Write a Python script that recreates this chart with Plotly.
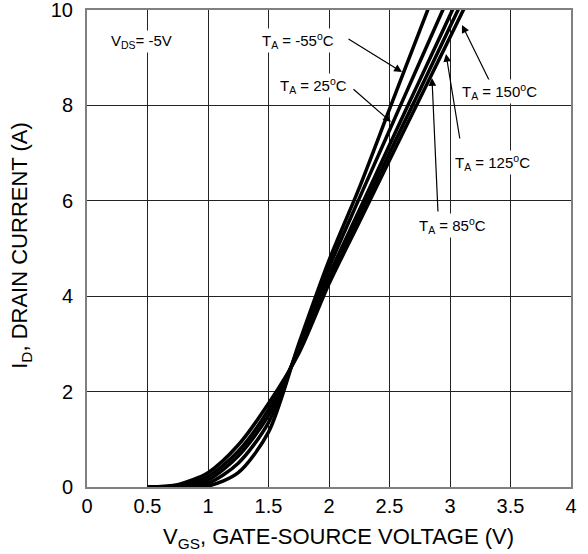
import plotly.graph_objects as go

# Gate-source voltage sample points (V)
vgs = [0.5, 0.75, 1.0, 1.25, 1.5, 1.75, 2.0, 2.25, 2.5, 2.75, 3.0, 3.25]

# Drain current (A) at each ambient temperature
id_m55 = [0.0, 0.0, 0.02, 0.3, 1.15, 3.0, 4.75, 6.27, 7.92, 9.57, 11.2]
id_25 = [0.0, 0.01, 0.08, 0.5, 1.35, 2.95, 4.6, 6.05, 7.48, 8.91, 10.34]
id_85 = [0.0, 0.02, 0.15, 0.65, 1.5, 2.9, 4.44, 5.8, 7.17, 8.53, 9.89, 11.25]
id_125 = [0.0, 0.03, 0.22, 0.75, 1.62, 2.85, 4.35, 5.67, 7.0, 8.32, 9.65, 10.97]
id_150 = [0.0, 0.05, 0.3, 0.88, 1.75, 2.8, 4.26, 5.55, 6.85, 8.14, 9.43, 10.72]

series = [id_m55, id_25, id_85, id_125, id_150]

x_ticks = [0, 0.5, 1, 1.5, 2, 2.5, 3, 3.5, 4]
x_tick_text = ["0", "0.5", "1", "1.5", "2", "2.5", "3", "3.5", "4"]
y_ticks = [0, 2, 4, 6, 8, 10]

FONT = "Arial, Liberation Sans, sans-serif"

fig = go.Figure()
for ys in series:
    fig.add_trace(go.Scatter(
        x=vgs[:len(ys)], y=ys, mode="lines",
        line=dict(color="black", width=3.5, shape="spline", smoothing=0.8),
        showlegend=False, hoverinfo="skip", cliponaxis=True,
    ))

# Temperature labels with leader arrows: (text, text_x, text_y, tail_x, tail_y, head_x, head_y)
labels = [
    ("T<sub>A</sub> = -55<sup>o</sup>C", 1.74, 9.37, 2.149, 9.413, 2.603, 8.700),
    ("T<sub>A</sub> = 25<sup>o</sup>C", 1.87, 8.41, 2.190, 8.365, 2.512, 7.652),
    ("T<sub>A</sub> = 150<sup>o</sup>C", 3.41, 8.30, 3.347, 8.407, 3.099, 9.686),
    ("T<sub>A</sub> = 125<sup>o</sup>C", 3.35, 6.81, 3.083, 7.275, 2.967, 9.078),
    ("T<sub>A</sub> = 85<sup>o</sup>C", 3.02, 5.49, 2.901, 5.744, 2.851, 8.574),
]

annotations = []
for text, tx, ty, ax, ay, hx, hy in labels:
    annotations.append(dict(
        x=hx, y=hy, ax=ax, ay=ay, xref="x", yref="y", axref="x", ayref="y",
        text="", showarrow=True, arrowhead=2, arrowsize=1.3, arrowwidth=1.2,
        arrowcolor="black", standoff=0, startstandoff=0,
    ))
for text, tx, ty, ax, ay, hx, hy in labels:
    annotations.append(dict(
        x=tx, y=ty, xref="x", yref="y", text=text, showarrow=False,
        font=dict(family=FONT, size=15, color="black"),
        bgcolor="white", borderpad=1,
    ))

annotations.append(dict(
    x=0.45, y=9.33, xref="x", yref="y", text="V<sub>DS</sub>= -5V",
    showarrow=False, font=dict(family=FONT, size=15, color="black"),
    bgcolor="white", borderpad=1,
))

# Axis titles
annotations.append(dict(
    x=0.52, y=-0.107, xref="paper", yref="paper", xanchor="center",
    yanchor="middle", text="V<sub>GS</sub>, GATE-SOURCE VOLTAGE (V)",
    showarrow=False, font=dict(family=FONT, size=22, color="black"),
))
annotations.append(dict(
    x=-0.135, y=0.507, xref="paper", yref="paper", xanchor="center",
    yanchor="middle", textangle=-90, text="I<sub>D</sub>, DRAIN CURRENT (A)",
    showarrow=False, font=dict(family=FONT, size=22, color="black"),
))

fig.update_layout(
    width=588, height=554,
    margin=dict(l=87, r=17, t=10, b=67, autoexpand=False),
    paper_bgcolor="white", plot_bgcolor="white",
    font=dict(family=FONT, size=20, color="black"),
    annotations=annotations,
    xaxis=dict(
        range=[0, 4], tickvals=x_ticks, ticktext=x_tick_text,
        showgrid=True, gridcolor="#222222", gridwidth=1,
        zeroline=False, showline=True, linecolor="#808080", linewidth=2,
        mirror=True, ticks="", tickfont=dict(size=20), automargin=False,
        ticklabeloverflow="allow",
    ),
    yaxis=dict(
        range=[0, 10], tickvals=y_ticks,
        showgrid=True, gridcolor="#222222", gridwidth=1,
        zeroline=False, showline=True, linecolor="#808080", linewidth=2,
        mirror=True, ticks="", tickfont=dict(size=20), automargin=False,
        ticklabelstandoff=8, ticklabeloverflow="allow",
    ),
)

fig.write_html("out.html")
